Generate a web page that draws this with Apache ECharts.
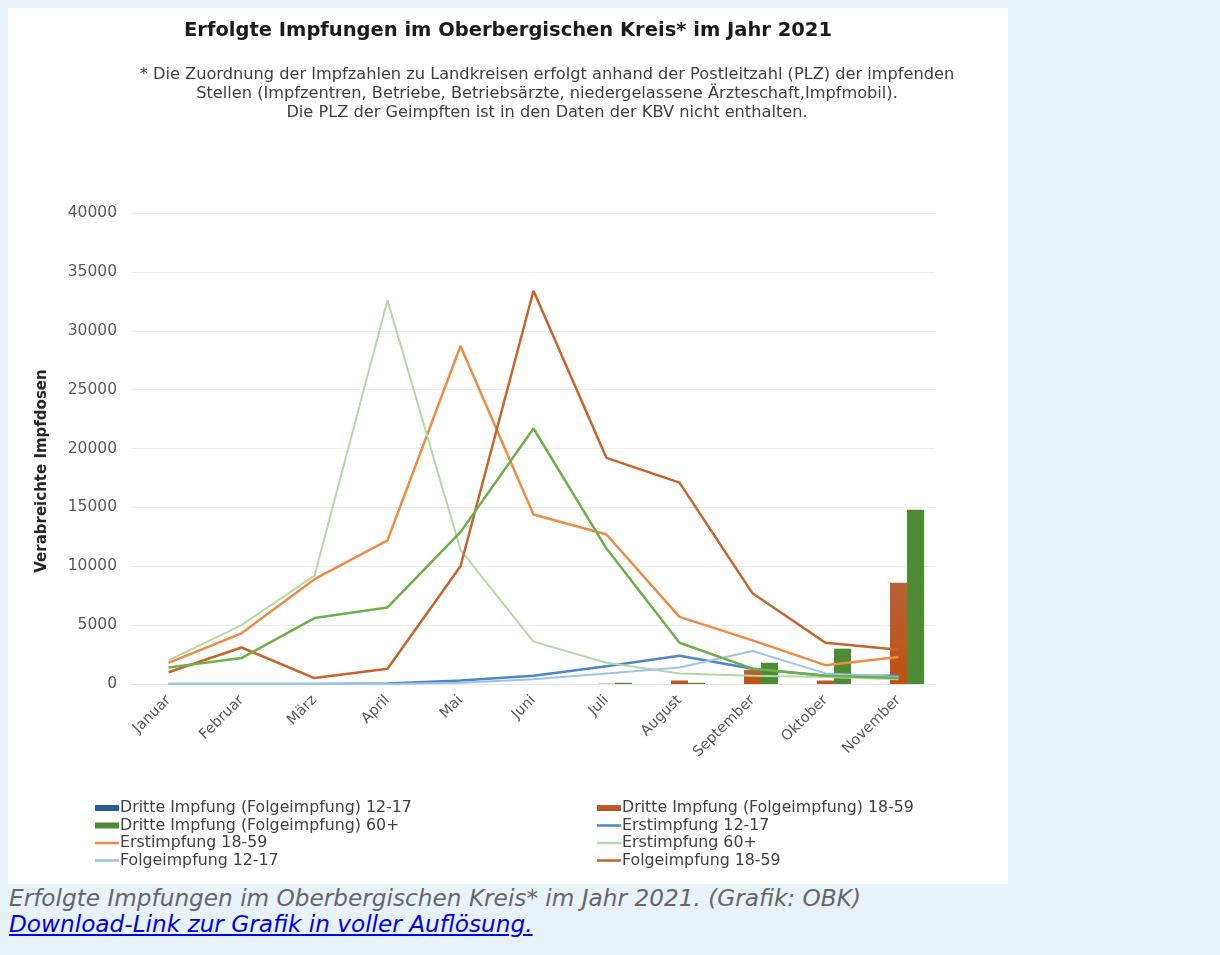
<!DOCTYPE html>
<html lang="de">
<head>
<meta charset="utf-8">
<title>Erfolgte Impfungen im Oberbergischen Kreis 2021</title>
<script src="https://cdn.jsdelivr.net/npm/echarts@6/dist/echarts.min.js"></script>
<style>
  html, body { margin: 0; padding: 0; background: #e8f2f9; width: 1220px; height: 955px; overflow: hidden; }
  #chart { position: absolute; left: 8px; top: 8px; width: 1000px; height: 876px; background: #ffffff; }
  #caption { position: absolute; left: 9px; top: 885px; font-family: "DejaVu Sans", Verdana, sans-serif;
             font-style: italic; font-size: 23.2px; line-height: 26px; color: #666666; white-space: nowrap; }
  #caption a { color: #0000ee; text-decoration: underline; }
</style>
</head>
<body>
<div id="chart"></div>
<div id="caption">
  Erfolgte Impfungen im Oberbergischen Kreis* im Jahr 2021. (Grafik: OBK)<br>
  <a href="#">Download-Link zur Grafik in voller Auflösung.</a>
</div>
<script>
// Monate
const months = ['Januar', 'Februar', 'März', 'April', 'Mai', 'Juni', 'Juli', 'August', 'September', 'Oktober', 'November'];

// Dritte Impfung (Folgeimpfung) – Säulen
const dritte1217 = [0, 0, 0, 0, 0, 0, 0, 0, 0, 0, 0];
const dritte1859 = [0, 0, 0, 0, 0, 0, 30, 300, 1200, 300, 8600];
const dritte60 = [0, 0, 0, 0, 0, 0, 100, 100, 1800, 3000, 14800];

// Erst- und Folgeimpfungen – Linien
const erst1217 = [0, 0, 0, 50, 300, 700, 1500, 2400, 1300, 700, 700];
const erst1859 = [1800, 4300, 8900, 12200, 28700, 14400, 12700, 5700, 3700, 1600, 2300];
const erst60 = [2000, 5000, 9200, 32600, 11400, 3600, 1800, 900, 700, 600, 400];
const folge1217 = [0, 0, 0, 0, 100, 400, 900, 1400, 2800, 900, 600];
const folge1859 = [1000, 3100, 500, 1300, 10000, 33400, 19200, 17100, 7700, 3500, 2900];
const folge60 = [1400, 2200, 5600, 6500, 12900, 21700, 11500, 3500, 1300, 700, 500];

// Achse
const yTicks = { min: 0, max: 40000, interval: 5000 };

const FONT = '"DejaVu Sans", Verdana, sans-serif';
const LINE_ICON = 'path://M0,0H24V2.5H0Z';

function bar(name, data, color) {
  return { name, type: 'bar', data, barGap: '0%', barCategoryGap: '30%', itemStyle: { color }, z: 1 };
}
function line(name, data, color, width) {
  return { name, type: 'line', data, symbol: 'none', showSymbol: false, z: 3,
           lineStyle: { color, width }, itemStyle: { color } };
}
function legendItem(name) {
  return { name, icon: name.indexOf('Dritte') === 0 ? 'rect' : LINE_ICON };
}
function legend(left, names) {
  return {
    orient: 'vertical', left, top: 792, padding: 0, itemWidth: 24, itemHeight: 6, itemGap: 1.5,
    data: names.map(legendItem),
    textStyle: { fontFamily: FONT, fontSize: 15.8, color: '#404040', padding: [0, 0, 0, -4], lineHeight: 15 }
  };
}

const chart = echarts.init(document.getElementById('chart'), null, { renderer: 'canvas' });

chart.setOption({
  backgroundColor: '#ffffff',
  animation: false,
  title: [
    { text: 'Erfolgte Impfungen im Oberbergischen Kreis* im Jahr 2021', left: 'center', top: 8,
      textStyle: { fontFamily: FONT, fontSize: 19.5, fontWeight: 'bold', color: '#1a1a1a' } }
  ],
  grid: { left: 124, right: 73, top: 205, bottom: 200, containLabel: false },
  legend: [
    legend(87, ['Dritte Impfung (Folgeimpfung) 12-17', 'Dritte Impfung (Folgeimpfung) 60+', 'Erstimpfung 18-59', 'Folgeimpfung 12-17']),
    legend(589, ['Dritte Impfung (Folgeimpfung) 18-59', 'Erstimpfung 12-17', 'Erstimpfung 60+', 'Folgeimpfung 18-59'])
  ],
  graphic: [
    // Fußnote zur Datenherkunft
    { type: 'text', x: 539, y: 57.5,
      style: { text: '* Die Zuordnung der Impfzahlen zu Landkreisen erfolgt anhand der Postleitzahl (PLZ) der impfenden\n' +
                     'Stellen (Impfzentren, Betriebe, Betriebsärzte, niedergelassene Ärzteschaft,Impfmobil).\n' +
                     'Die PLZ der Geimpften ist in den Daten der KBV nicht enthalten.',
               fontFamily: FONT, fontSize: 16.2, fill: '#404040', lineHeight: 19,
               textAlign: 'center', textVerticalAlign: 'top' } },
    // Achsentitel
    { type: 'text', x: 34, y: 463, rotation: Math.PI / 2,
      style: { text: 'Verabreichte Impfdosen', fontFamily: FONT, fontSize: 15, fontWeight: 'bold', fill: '#262626',
               textAlign: 'center', textVerticalAlign: 'middle' } }
  ],
  xAxis: {
    type: 'category', data: months, boundaryGap: true,
    axisLine: { show: true, lineStyle: { color: '#e6e6e6' } },
    axisTick: { show: false },
    axisLabel: { rotate: 45, interval: 0, margin: 14, fontFamily: FONT, fontSize: 14.5, color: '#595959' }
  },
  yAxis: {
    type: 'value', min: yTicks.min, max: yTicks.max, interval: yTicks.interval,
    axisLine: { show: false }, axisTick: { show: false },
    axisLabel: { fontFamily: FONT, fontSize: 15.5, color: '#595959', margin: 15, formatter: v => String(v) },
    splitLine: { lineStyle: { color: '#ececec', width: 1 } }
  },
  series: [
    bar('Dritte Impfung (Folgeimpfung) 12-17', dritte1217, '#2a5f94'),
    bar('Dritte Impfung (Folgeimpfung) 18-59', dritte1859,
        new echarts.graphic.LinearGradient(0, 0, 0, 1, [{ offset: 0, color: '#b6623a' }, { offset: 1, color: '#c2500c' }])),
    bar('Dritte Impfung (Folgeimpfung) 60+', dritte60, '#4c8a34'),
    line('Erstimpfung 12-17', erst1217, '#4a86c8', 2.5),
    line('Erstimpfung 18-59', erst1859, '#ef8a44', 2.5),
    line('Erstimpfung 60+', erst60, '#b5d9a0', 2),
    line('Folgeimpfung 12-17', folge1217, '#9ec3ea', 2),
    line('Folgeimpfung 18-59', folge1859, '#c8642a', 2.5),
    line('Folgeimpfung 60+', folge60, '#6bb048', 2.5)
  ]
});
</script>
</body>
</html>
